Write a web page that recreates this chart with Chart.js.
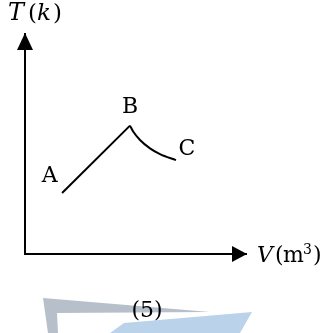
<!DOCTYPE html>
<html lang="en">
<head>
    <meta charset="UTF-8">
    <title>T-V Diagram</title>
    <script src="https://cdn.jsdelivr.net/npm/chart.js"></script>
    <style>
        html, body { margin: 0; padding: 0; background: #fff; }
        #wrap { width: 332px; height: 333px; }
    </style>
</head>
<body>
    <div id="wrap"><canvas id="tvChart" width="332" height="333"></canvas></div>

    <script>
        // axis extent (arbitrary units, no ticks on the diagram)
        const vMax = 10;
        const tMax = 10;

        // process A -> B (straight line)
        const abV = [1.67, 4.73];
        const abT = [2.76, 5.81];

        // process B -> C (curve)
        const bcV = [4.73, 4.88, 5.18, 5.63, 6.08, 6.80];
        const bcT = [5.81, 5.53, 5.16, 4.78, 4.52, 4.25];

        const stateNames = ['A', 'B', 'C'];
        const stateV = [abV[0], abV[1], bcV[bcV.length - 1]];
        const stateT = [abT[0], abT[1], bcT[bcT.length - 1]];

        const serif = '"DejaVu Serif", "Liberation Serif", serif';

        function toPoints(xs, ys) {
            return xs.map((x, i) => ({ x: x, y: ys[i] }));
        }

        // each glyph gets its own x so the math-style spacing holds
        function drawPieces(ctx, pieces, baseline) {
            pieces.forEach(p => {
                ctx.font = (p.italic ? 'italic ' : '') + p.size + 'px ' + serif;
                ctx.fillText(p.text, p.x, baseline + (p.rise || 0));
            });
        }

        // faint logo behind the caption
        const watermark = {
            id: 'watermark',
            beforeDraw(chart) {
                const ctx = chart.ctx;
                ctx.save();
                ctx.fillStyle = '#b7c0ca';
                ctx.beginPath();
                ctx.moveTo(43, 298);
                ctx.lineTo(210, 312);
                ctx.lineTo(57, 313);
                ctx.lineTo(58, 333);
                ctx.lineTo(48, 333);
                ctx.closePath();
                ctx.fill();
                ctx.fillStyle = '#bad3ea';
                ctx.beginPath();
                ctx.moveTo(110, 333);
                ctx.lineTo(124, 323);
                ctx.lineTo(252, 312);
                ctx.lineTo(240, 333);
                ctx.closePath();
                ctx.fill();
                ctx.restore();
            }
        };

        // arrowheads, state letters, axis titles and caption
        const annotations = {
            id: 'annotations',
            afterDatasetsDraw(chart) {
                const ctx = chart.ctx;
                const xs = chart.scales.x;
                const ys = chart.scales.y;
                const x0 = xs.getPixelForValue(0);
                const y0 = ys.getPixelForValue(0);
                const xEnd = xs.getPixelForValue(vMax);
                const yEnd = ys.getPixelForValue(tMax);

                ctx.save();
                ctx.fillStyle = '#000';

                // arrow on V axis
                ctx.beginPath();
                ctx.moveTo(xEnd, y0);
                ctx.lineTo(xEnd - 15, y0 - 8);
                ctx.lineTo(xEnd - 15, y0 + 8);
                ctx.closePath();
                ctx.fill();

                // arrow on T axis
                ctx.beginPath();
                ctx.moveTo(x0, yEnd);
                ctx.lineTo(x0 - 8, yEnd + 17);
                ctx.lineTo(x0 + 8, yEnd + 17);
                ctx.closePath();
                ctx.fill();

                // state letters
                const offsets = [[-12.5, -18], [0, -19.5], [11, -12]];
                ctx.font = '22px ' + serif;
                ctx.textAlign = 'center';
                ctx.textBaseline = 'middle';
                stateNames.forEach((name, i) => {
                    const px = xs.getPixelForValue(stateV[i]) + offsets[i][0];
                    const py = ys.getPixelForValue(stateT[i]) + offsets[i][1];
                    ctx.fillText(name, px, py + 1);
                });

                // axis titles
                ctx.textAlign = 'left';
                ctx.textBaseline = 'alphabetic';
                drawPieces(ctx, [
                    { text: 'T', italic: true, size: 24, x: 8 },
                    { text: '(', size: 23, x: 28 },
                    { text: 'k', italic: true, size: 23, x: 37 },
                    { text: ')', size: 23, x: 53 }
                ], 20);
                drawPieces(ctx, [
                    { text: 'V', italic: true, size: 22, x: 257 },
                    { text: '(', size: 22, x: 275 },
                    { text: 'm', size: 22, x: 283 },
                    { text: '3', size: 14, x: 303, rise: -8 },
                    { text: ')', size: 22, x: 313 }
                ], 262);

                // caption
                ctx.textAlign = 'center';
                ctx.textBaseline = 'middle';
                ctx.font = '22px ' + serif;
                ctx.fillText('(5)', 147, 311);
                ctx.restore();
            }
        };

        new Chart(document.getElementById('tvChart'), {
            type: 'scatter',
            data: {
                datasets: [
                    {
                        label: 'axes',
                        data: [{ x: 0, y: tMax }, { x: 0, y: 0 }, { x: vMax, y: 0 }],
                        showLine: true,
                        borderColor: '#000',
                        borderWidth: 2,
                        borderJoinStyle: 'miter',
                        pointRadius: 0,
                        clip: false
                    },
                    {
                        label: 'A-B',
                        data: toPoints(abV, abT),
                        showLine: true,
                        borderColor: '#000',
                        borderWidth: 2,
                        pointRadius: 0,
                        clip: false
                    },
                    {
                        label: 'B-C',
                        data: toPoints(bcV, bcT),
                        showLine: true,
                        borderColor: '#000',
                        borderWidth: 2,
                        tension: 0.4,
                        cubicInterpolationMode: 'monotone',
                        pointRadius: 0,
                        clip: false
                    }
                ]
            },
            options: {
                responsive: false,
                animation: false,
                layout: { padding: { left: 25, right: 85, top: 33, bottom: 79 } },
                plugins: {
                    legend: { display: false },
                    tooltip: { enabled: false }
                },
                scales: {
                    x: { type: 'linear', min: 0, max: vMax, display: false },
                    y: { type: 'linear', min: 0, max: tMax, display: false }
                }
            },
            plugins: [watermark, annotations]
        });
    </script>
</body>
</html>
